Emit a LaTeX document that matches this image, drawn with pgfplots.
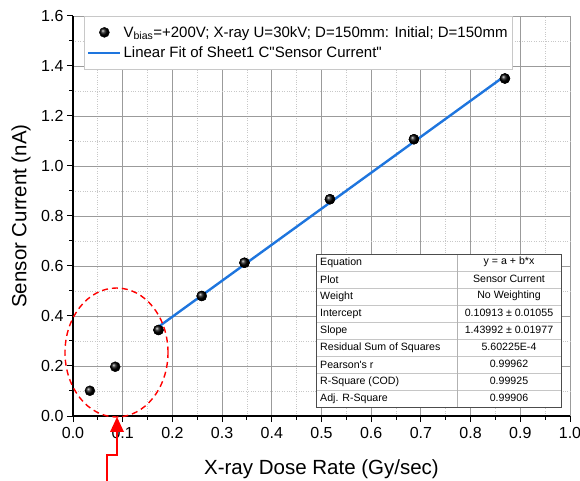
\documentclass[border=0pt]{standalone}
\usepackage{fontspec}
\setmainfont{Liberation Sans}[Ligatures=TeXOff]
\usepackage{pgfplots}
\pgfplotsset{compat=1.18}
\definecolor{fitblue}{RGB}{30,117,222}
\definecolor{majgrid}{RGB}{155,155,155}
\definecolor{mingrid}{RGB}{200,200,200}
\begin{document}
\begin{tikzpicture}
\begin{axis}[
  at={(0,0)}, anchor=south west,
  scale only axis, width=497pt, height=400pt,
  xmin=0, xmax=1, ymin=0, ymax=1.6,
  xtick={0,0.1,0.2,0.3,0.4,0.5,0.6,0.7,0.8,0.9,1.0},
  ytick={0,0.2,0.4,0.6,0.8,1.0,1.2,1.4,1.6},
  minor x tick num=1, minor y tick num=1,
  axis x line*=bottom, axis y line*=left,
  axis line style={-, line width=1.4pt, black},
  tick align=outside,
  major tick length=6pt, minor tick length=3.5pt,
  tick style={black, line width=1pt},
  grid=both,
  major grid style={majgrid, line width=0.9pt},
  minor grid style={mingrid, dotted, line width=0.8pt},
  tick label style={font=\fontsize{16}{19}\selectfont},
  xticklabel style={yshift=-2pt, /pgf/number format/.cd, fixed, fixed zerofill, precision=1, assume math mode=true},
  yticklabel style={/pgf/number format/.cd, fixed, fixed zerofill, precision=1, assume math mode=true},
  xlabel={X-ray Dose Rate (Gy/sec)},
  ylabel={Sensor Current (nA)},
  label style={font=\fontsize{20.5}{24}\selectfont},
  xlabel style={at={(axis description cs:0.5,-0.1325)}, anchor=center},
  ylabel style={at={(axis description cs:-0.1046,0.5)}, anchor=center},
  legend style={at={(axis description cs:0.0221,1)}, anchor=north west,
    draw=mingrid, fill=white, font=\fontsize{15}{17}\selectfont,
    inner xsep=3pt, inner ysep=8pt, row sep=4pt},
  legend cell align=left,
  legend image code/.code={\draw[mark repeat=2,mark phase=2,#1] plot coordinates {(0pt,0pt) (16pt,0pt) (32pt,0pt)};},
]
\addplot[only marks, mark=ball, mark size=5pt, mark options={ball color=black}]
  coordinates {(0.034,0.101) (0.085,0.197) (0.172,0.344) (0.259,0.480) (0.345,0.613) (0.517,0.867) (0.686,1.107) (0.869,1.350)};
\addlegendentry{V\textsubscript{bias}=+200V; X-ray U=30kV; D=150mm: Initial; D=150mm}
\addplot[fitblue, line width=2.4pt, no marks] coordinates {(0.172,0.3568) (0.869,1.3604)};
\addlegendentry{Linear Fit of Sheet1 C"Sensor Current"}
\addplot[only marks, mark=ball, mark size=5pt, mark options={ball color=black}, forget plot]
  coordinates {(0.172,0.344) (0.259,0.480) (0.345,0.613) (0.517,0.867) (0.686,1.107) (0.869,1.350)};
\end{axis}
\begin{scope}[x=1pt,y=1pt, font=\fontsize{10.6}{12}\selectfont]
  \fill[white] (243,9) rectangle (488,162);
  \foreach \i in {1,...,8} \draw[gray!45, line width=0.8pt] (243,{162-17*\i}) -- (488,{162-17*\i});
  \draw[gray!60, line width=0.8pt] (384,9) -- (384,162);
  \draw[black!70, line width=0.9pt] (243,9) rectangle (488,162);
  \foreach \i/\a/\b in {0/Equation/{y = a + b*x}, 1/Plot/{Sensor Current}, 2/Weight/{No Weighting},
     3/Intercept/{0.10913 ± 0.01055}, 4/Slope/{1.43992 ± 0.01977}, 5/{Residual Sum of Squares}/{5.60225E-4},
     6/{Pearson's r}/{0.99962}, 7/{R-Square (COD)}/{0.99925}, 8/{Adj. R-Square}/{0.99906}}{
    \node[anchor=west, inner sep=0pt] at (247,{153.5-17*\i}) {\a};
    \node[inner sep=0pt] at (436,{154.5-17*\i}) {\b};
  }
  \draw[red, line width=1.4pt, dash pattern=on 6pt off 4pt] (43.5,63.5) ellipse [x radius=51.5, y radius=64.5];
  \draw[red, line width=2.6pt] (34,-66) -- (34,-39) -- (44,-39) -- (44,-14);
  \fill[red] (44,-1) -- (37,-16) -- (51,-16) -- cycle;
\end{scope}
\pgfresetboundingbox
\path[use as bounding box] (-73pt,-65pt) rectangle (507pt,416pt);
\end{tikzpicture}
\end{document}
